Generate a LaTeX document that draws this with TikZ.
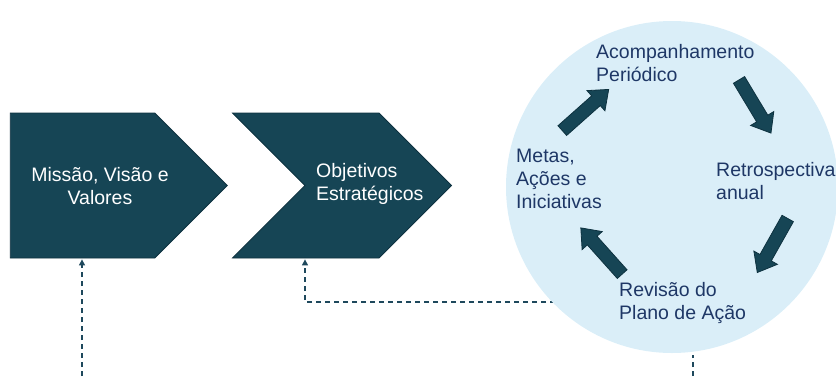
\documentclass[tikz,border=0pt]{standalone}
\usepackage{fontspec}
\setmainfont{Liberation Sans}
\usetikzlibrary{positioning}
\usetikzlibrary{calc}
\usetikzlibrary{arrows.meta}
\usetikzlibrary{shapes.symbols}

\definecolor{petrol}{RGB}{22,69,85}
\definecolor{petrolEdge}{RGB}{14,50,64}
\definecolor{ceu}{RGB}{218,238,248}
\definecolor{marinho}{RGB}{30,55,102}
\definecolor{tracejado}{RGB}{30,72,92}

\begin{document}
\begin{tikzpicture}[x=1pt, y=-1pt,
        etapa/.style={signal, signal pointer angle=90, fill=petrol, draw=petrolEdge, line width=0.8pt, inner sep=0pt, minimum height=145pt},
        etapaTxt/.style={text=white, font=\fontsize{19.5pt}{23.3pt}\selectfont, inner sep=0pt},
        cicloTxt/.style={text=marinho, font=\fontsize{19.5pt}{23.3pt}\selectfont, inner sep=0pt, align=left, anchor=west},
        seta/.pic={\filldraw[fill=petrol, draw=petrolEdge, line width=0.8pt]
            (-31,-6.5) -- (14,-6.5) -- (14,-13.5) -- (31,0) -- (14,13.5) -- (14,6.5) -- (-31,6.5) -- cycle;},
        retorno/.style={tracejado, dash pattern=on 5pt off 4pt, line width=1.3pt, -{Triangle[length=6pt, width=6pt]}},
        ]
    \useasboundingbox (0,0) rectangle (836,376);
    \clip (0,0) rectangle (836,376);

    % chevrons
    \node[etapa, signal to=east, minimum width=217pt] (mvv) at (82.5,185.5) {};
    \node[etapa, signal from=west, signal to=east, minimum width=219pt] (obj) at (342,185.5) {};
    \node[etapaTxt, align=center] (mvvTxt) at (100,186) {Missão, Visão e\\Valores};
    \node[etapaTxt, align=left, anchor=west] (objTxt) at (316,184) {Objetivos\\Estratégicos};

    % dashed returns (the one to obj starts under the circle)
    \coordinate (r1) at (82,376);
    \coordinate (r2) at (600,302);
    \coordinate (r3) at (693,376);
    \draw[retorno, shorten >=1pt] (r1) -- (r1 |- mvv.south);
    \draw[retorno, shorten >=1pt] (r2) -| ($(obj.south)+(-37,0)$);

    % cycle
    \node[circle, fill=ceu, inner sep=0pt, minimum size=332pt] (ciclo) at (672,187) {};
    \draw[retorno, -, shorten >=2pt] (r3) -- (r3 |- ciclo.south);

    \pic[rotate=41.6] (s1) at (585.5,110) {seta};
    \pic[rotate=-59] (s2) at (755,106.5) {seta};
    \pic[rotate=-119.4] (s3) at (772.5,245.5) {seta};
    \pic[rotate=131.8] (s4) at (601.5,251) {seta};

    \node[cicloTxt] (acomp) at (596,63) {Acompanhamento\\Periódico};
    \node[cicloTxt] (retro) at (716,181) {Retrospectiva\\anual};
    \node[cicloTxt] (revisao) at (619,303) {Revisão do\\Plano de Ação};
    \node[cicloTxt] (metas) at (516,179) {Metas,\\Ações e\\Iniciativas};
\end{tikzpicture}
\end{document}
